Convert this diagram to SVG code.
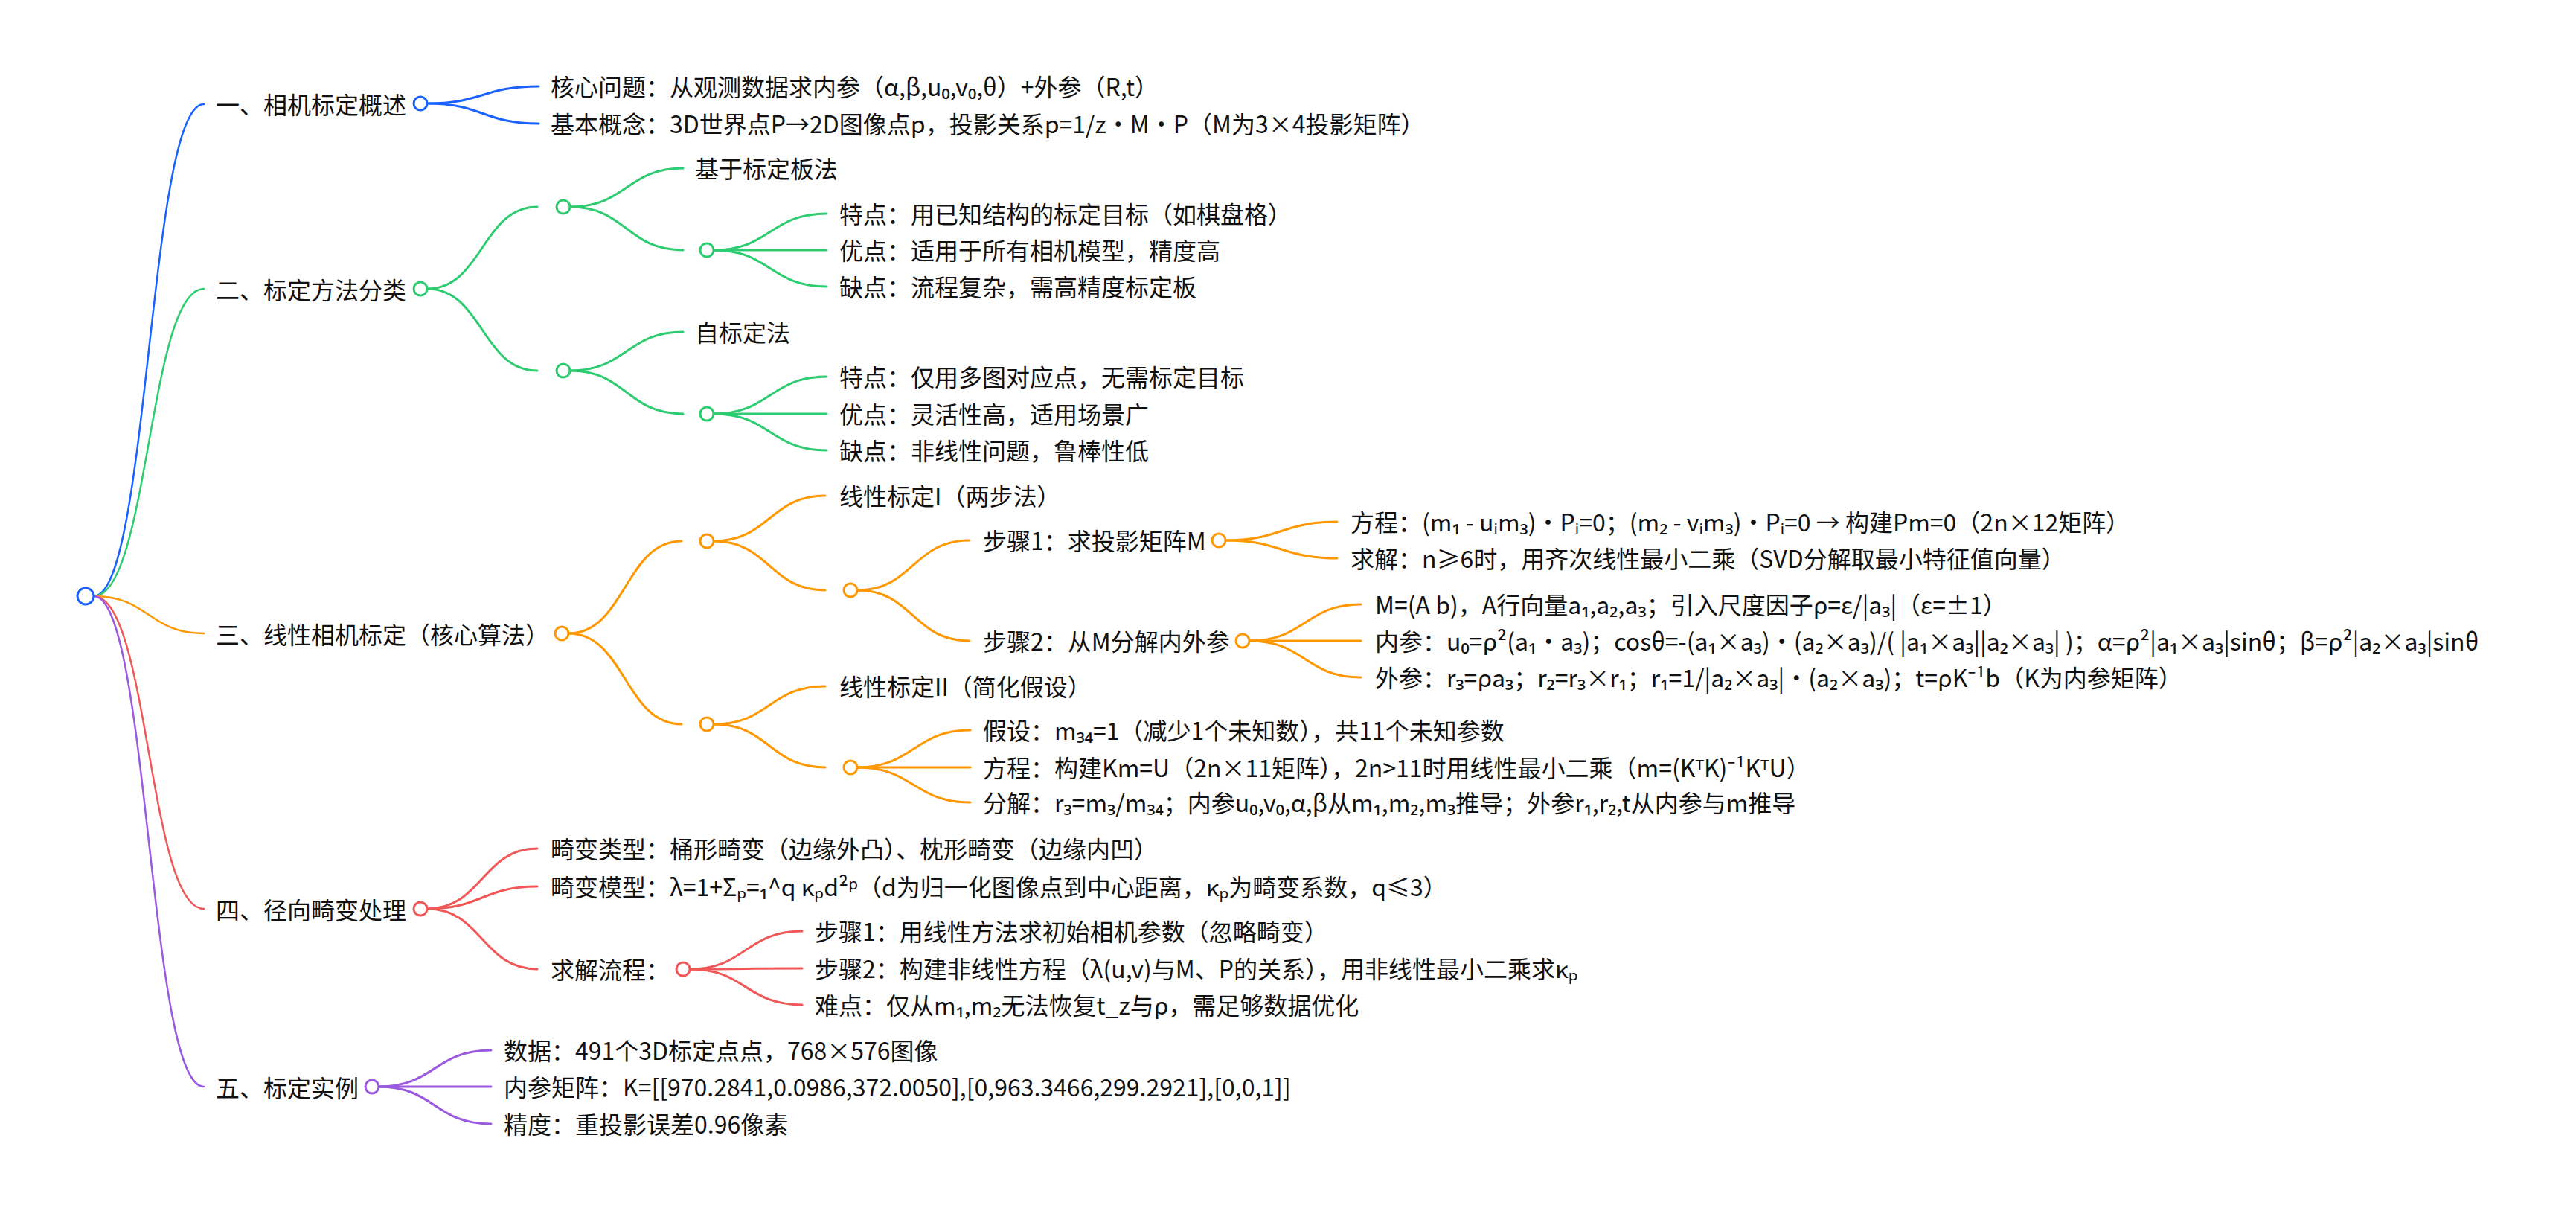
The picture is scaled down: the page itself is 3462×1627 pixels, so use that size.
<svg xmlns="http://www.w3.org/2000/svg" width="3462" height="1627" viewBox="0 0 3462 1627">
<style>
text{font-family:"Noto Sans CJK SC","Noto Sans",sans-serif;font-size:32px;fill:#111}
.l{fill:none;stroke-width:3;stroke-linecap:round}
.r{stroke-width:2.5}
.c{fill:#fff;stroke-width:3}
.b{stroke:#1a62ff}.g{stroke:#2ecc71}.o{stroke:#ff9800}.rd{stroke:#f25757}.p{stroke:#9b59e0}
</style>
<rect width="3462" height="1627" fill="#fff"/>
<g id="connectors">
<path class="l r b" d="M126,801 C200,801 200,140 274,140"/>
<path class="l r g" d="M126,801 C200,801 200,388 274,388"/>
<path class="l r o" d="M126,801 C200,801 200,851 274,851"/>
<path class="l r rd" d="M126,801 C200,801 200,1221 274,1221"/>
<path class="l r p" d="M126,801 C200,801 200,1460 274,1460"/>
<path class="l b" d="M574,139 C649,139 649,116 724,116"/>
<path class="l b" d="M574,139 C649,139 649,166 724,166"/>
<path class="l g" d="M574,388 C648,388 648,278 722,278"/>
<path class="l g" d="M574,388 C648,388 648,498 722,498"/>
<path class="l g" d="M766,278 C842,278 842,226 918,226"/>
<path class="l g" d="M766,278 C842,278 842,336 918,336"/>
<path class="l g" d="M959,336 C1035,336 1035,287 1111,287"/>
<path class="l g" d="M959,336 C1035,336 1035,336 1111,336"/>
<path class="l g" d="M959,336 C1035,336 1035,385 1111,385"/>
<path class="l g" d="M766,498 C842,498 842,446 918,446"/>
<path class="l g" d="M766,498 C842,498 842,556 918,556"/>
<path class="l g" d="M959,556 C1035,556 1035,506 1111,506"/>
<path class="l g" d="M959,556 C1035,556 1035,556 1111,556"/>
<path class="l g" d="M959,556 C1035,556 1035,605 1111,605"/>
<path class="l o" d="M764,851 C840,851 840,727 916,727"/>
<path class="l o" d="M764,851 C840,851 840,973 916,973"/>
<path class="l o" d="M959,727 C1034,727 1034,666 1109,666"/>
<path class="l o" d="M959,727 C1034,727 1034,793 1109,793"/>
<path class="l o" d="M1152,793 C1227,793 1227,726 1303,726"/>
<path class="l o" d="M1152,793 C1227,793 1227,861 1303,861"/>
<path class="l o" d="M1647,726 C1722,726 1722,701 1797,701"/>
<path class="l o" d="M1647,726 C1722,726 1722,750 1797,750"/>
<path class="l o" d="M1679,861 C1754,861 1754,812 1829,812"/>
<path class="l o" d="M1679,861 C1754,861 1754,861 1829,861"/>
<path class="l o" d="M1679,861 C1754,861 1754,910 1829,910"/>
<path class="l o" d="M959,973 C1034,973 1034,922 1109,922"/>
<path class="l o" d="M959,973 C1034,973 1034,1031 1109,1031"/>
<path class="l o" d="M1152,1031 C1228,1031 1228,981 1304,981"/>
<path class="l o" d="M1152,1031 C1228,1031 1228,1031 1304,1031"/>
<path class="l o" d="M1152,1031 C1228,1031 1228,1078 1304,1078"/>
<path class="l rd" d="M574,1221 C648,1221 648,1140 722,1140"/>
<path class="l rd" d="M574,1221 C648,1221 648,1191 722,1191"/>
<path class="l rd" d="M574,1221 C648,1221 648,1302 722,1302"/>
<path class="l rd" d="M927,1302 C1002,1302 1002,1251 1078,1251"/>
<path class="l rd" d="M927,1302 C1002,1302 1002,1301 1078,1301"/>
<path class="l rd" d="M927,1302 C1002,1302 1002,1350 1078,1350"/>
<path class="l p" d="M509,1460 C584,1460 584,1411 660,1411"/>
<path class="l p" d="M509,1460 C584,1460 584,1460 660,1460"/>
<path class="l p" d="M509,1460 C584,1460 584,1510 660,1510"/>
</g>
<g id="root"><circle class="c b" cx="115" cy="801" r="11"/></g>
<g id="n1"><text x="290" y="153">一、相机标定概述</text><circle class="c b" cx="565" cy="139" r="9"/></g>
<g id="n1a"><text x="740" y="129">核心问题：从观测数据求内参（α,β,u₀,v₀,θ）+外参（R,t）</text></g>
<g id="n1b"><text x="740" y="179">基本概念：3D世界点P→2D图像点p，投影关系p=1/z・M・P（M为3×4投影矩阵）</text></g>
<g id="n2"><text x="290" y="402">二、标定方法分类</text><circle class="c g" cx="565" cy="388" r="9"/></g>
<g id="n2a"><circle class="c g" cx="757" cy="278" r="9"/></g>
<g id="n2a1"><text x="934" y="239">基于标定板法</text></g>
<g id="n2a2"><circle class="c g" cx="950" cy="336" r="9"/></g>
<g id="n2a2a"><text x="1128" y="300">特点：用已知结构的标定目标（如棋盘格）</text></g>
<g id="n2a2b"><text x="1128" y="349">优点：适用于所有相机模型，精度高</text></g>
<g id="n2a2c"><text x="1128" y="398">缺点：流程复杂，需高精度标定板</text></g>
<g id="n2b"><circle class="c g" cx="757" cy="498" r="9"/></g>
<g id="n2b1"><text x="934" y="459">自标定法</text></g>
<g id="n2b2"><circle class="c g" cx="950" cy="556" r="9"/></g>
<g id="n2b2a"><text x="1128" y="519">特点：仅用多图对应点，无需标定目标</text></g>
<g id="n2b2b"><text x="1128" y="569">优点：灵活性高，适用场景广</text></g>
<g id="n2b2c"><text x="1128" y="618">缺点：非线性问题，鲁棒性低</text></g>
<g id="n3"><text x="290" y="865">三、线性相机标定（核心算法）</text><circle class="c o" cx="755" cy="851" r="9"/></g>
<g id="n3a"><circle class="c o" cx="950" cy="727" r="9"/></g>
<g id="n3a1"><text x="1128" y="679">线性标定I（两步法）</text></g>
<g id="n3a2"><circle class="c o" cx="1143" cy="793" r="9"/></g>
<g id="n3a2a"><text x="1321" y="739">步骤1：求投影矩阵M</text><circle class="c o" cx="1638" cy="726" r="9"/></g>
<g id="n3a2a1"><text x="1815" y="714">方程：(m₁ - uᵢm₃)・Pᵢ=0；(m₂ - vᵢm₃)・Pᵢ=0 → 构建Pm=0（2n×12矩阵）</text></g>
<g id="n3a2a2"><text x="1815" y="763">求解：n≥6时，用齐次线性最小二乘（SVD分解取最小特征值向量）</text></g>
<g id="n3a2b"><text x="1321" y="874">步骤2：从M分解内外参</text><circle class="c o" cx="1670" cy="861" r="9"/></g>
<g id="n3a2b1"><text x="1848" y="825">M=(A b)，A行向量a₁,a₂,a₃；引入尺度因子ρ=ε/|a₃|（ε=±1）</text></g>
<g id="n3a2b2"><text x="1848" y="874">内参：u₀=ρ²(a₁・a₃)；cosθ=-(a₁×a₃)・(a₂×a₃)/( |a₁×a₃||a₂×a₃| )；α=ρ²|a₁×a₃|sinθ；β=ρ²|a₂×a₃|sinθ</text></g>
<g id="n3a2b3"><text x="1848" y="923">外参：r₃=ρa₃；r₂=r₃×r₁；r₁=1/|a₂×a₃|・(a₂×a₃)；t=ρK⁻¹b（K为内参矩阵）</text></g>
<g id="n3b"><circle class="c o" cx="950" cy="973" r="9"/></g>
<g id="n3b1"><text x="1128" y="935">线性标定II（简化假设）</text></g>
<g id="n3b2"><circle class="c o" cx="1143" cy="1031" r="9"/></g>
<g id="n3b2a"><text x="1321" y="994">假设：m₃₄=1（减少1个未知数），共11个未知参数</text></g>
<g id="n3b2b"><text x="1321" y="1044">方程：构建Km=U（2n×11矩阵），2n&gt;11时用线性最小二乘（m=(KᵀK)⁻¹KᵀU）</text></g>
<g id="n3b2c"><text x="1321" y="1091">分解：r₃=m₃/m₃₄；内参u₀,v₀,α,β从m₁,m₂,m₃推导；外参r₁,r₂,t从内参与m推导</text></g>
<g id="n4"><text x="290" y="1235">四、径向畸变处理</text><circle class="c rd" cx="565" cy="1221" r="9"/></g>
<g id="n4a"><text x="740" y="1153">畸变类型：桶形畸变（边缘外凸）、枕形畸变（边缘内凹）</text></g>
<g id="n4b"><text x="740" y="1204">畸变模型：λ=1+Σₚ=₁^q κₚd²ᵖ（d为归一化图像点到中心距离，κₚ为畸变系数，q≤3）</text></g>
<g id="n4c"><text x="740" y="1315">求解流程：</text><circle class="c rd" cx="918" cy="1302" r="9"/></g>
<g id="n4c1"><text x="1095" y="1264">步骤1：用线性方法求初始相机参数（忽略畸变）</text></g>
<g id="n4c2"><text x="1095" y="1314">步骤2：构建非线性方程（λ(u,v)与M、P的关系），用非线性最小二乘求κₚ</text></g>
<g id="n4c3"><text x="1095" y="1363">难点：仅从m₁,m₂无法恢复t_z与ρ，需足够数据优化</text></g>
<g id="n5"><text x="290" y="1474">五、标定实例</text><circle class="c p" cx="500" cy="1460" r="9"/></g>
<g id="n5a"><text x="677" y="1424">数据：491个3D标定点点，768×576图像</text></g>
<g id="n5b"><text x="677" y="1473">内参矩阵：K=[[970.2841,0.0986,372.0050],[0,963.3466,299.2921],[0,0,1]]</text></g>
<g id="n5c"><text x="677" y="1523">精度：重投影误差0.96像素</text></g>
</svg>
